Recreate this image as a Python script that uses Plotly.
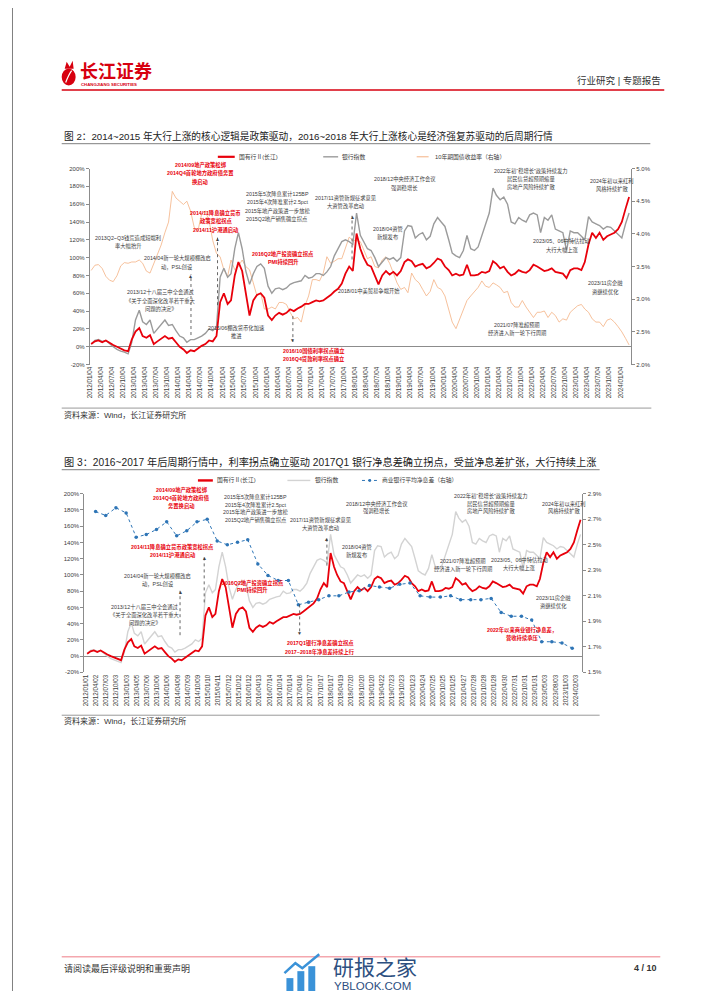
import plotly.graph_objects as go

W, H = 702, 991
FONT = "Liberation Sans, Noto Sans CJK SC, sans-serif"

# ---------------- data ----------------
months = [f"{y}-{m:02d}-15" for y in range(2012, 2025) for m in range(1, 13)][:147]

soe_bank = [  # 国有行Ⅱ(长江), cumulative %
    3, 6, 7, 5, 7, 4, 2, 0, -2, -4, -5, 8,
    17, 21, 12, 10, 13, 3, 6, 9, 12, 9, 10, 5,
    0, -3, -7, -4, -5, -2, 1, 3, 7, 6, 12, 50,
    60, 48, 52, 80, 95, 85, 62, 35, 52, 58, 60, 55,
    35, 30, 35, 38, 36, 38, 42, 40, 43, 45, 48, 48,
    50, 52, 51, 52, 55, 58, 62, 65, 71, 82, 90, 85,
    127, 110, 100, 92, 90, 80, 70, 80, 85, 81, 84, 80,
    85, 95, 98, 96, 90, 92, 93, 88, 90, 94, 99, 97,
    90, 86, 80, 82, 80, 81, 92, 80, 80, 81, 84, 83,
    85, 96, 93, 88, 90, 84, 80, 82, 86, 84, 83, 86,
    92, 90, 88, 85, 86, 88, 84, 83, 82, 77, 86, 88,
    88, 86, 95, 115, 128, 122, 128, 120, 124, 126, 128, 132,
    140, 155, 168,
]

bank_index = [  # 银行指数, cumulative %
    3, 7, 8, 6, 7, 3, 0, -3, -5, -6, -8, 5,
    30, 41, 28, 25, 30, 15, 20, 26, 30, 24, 25, 18,
    12, 10, 5, 8, 8, 10, 12, 15, 20, 18, 22, 78,
    88, 78, 82, 110, 128, 110, 85, 70, 82, 90, 93, 88,
    68, 60, 65, 66, 64, 66, 70, 72, 73, 74, 80, 77,
    78, 82, 82, 80, 84, 90, 102, 110, 118, 120, 118, 115,
    150, 125, 118, 110, 108, 100, 90, 95, 100, 98, 100, 96,
    100, 130, 136, 135, 122, 126, 128, 120, 124, 138, 145, 140,
    135, 120, 105, 102, 100, 108, 125, 110, 108, 112, 125, 135,
    150, 178, 170, 165, 168, 160, 140, 138, 145, 142, 140, 148,
    150, 148, 128, 145, 142, 148, 132, 130, 128, 108, 130, 128,
    128, 124, 120, 146, 140, 138, 136, 132, 135, 134, 130, 125,
    122, 138, 150,
]

cgb10y = [  # 10年期国债收益率, %
    3.44, 3.52, 3.53, 3.47, 3.35, 3.29, 3.27, 3.36, 3.51, 3.56, 3.55, 3.57,
    3.57, 3.60, 3.55, 3.43, 3.40, 3.55, 3.67, 3.83, 4.02, 4.18, 4.65, 4.55,
    4.50, 4.45, 4.50, 4.35, 4.10, 4.05, 4.30, 4.35, 4.20, 3.90, 3.70, 3.65,
    3.45, 3.35, 3.60, 3.45, 3.50, 3.60, 3.50, 3.45, 3.25, 3.05, 3.10, 2.85,
    2.85, 2.88, 2.85, 2.95, 2.95, 2.92, 2.80, 2.70, 2.72, 2.65, 2.90, 3.05,
    3.30, 3.30, 3.28, 3.40, 3.65, 3.55, 3.58, 3.62, 3.62, 3.80, 3.95, 3.90,
    3.90, 3.88, 3.75, 3.62, 3.65, 3.50, 3.48, 3.60, 3.65, 3.55, 3.40, 3.25,
    3.15, 3.18, 3.10, 3.40, 3.30, 3.25, 3.15, 3.05, 3.12, 3.30, 3.18, 3.15,
    3.05, 2.85, 2.65, 2.55, 2.70, 2.85, 2.98, 3.05, 3.12, 3.18, 3.28, 3.20,
    3.18, 3.25, 3.22, 3.18, 3.10, 3.12, 2.95, 2.88, 2.88, 2.98, 2.88, 2.80,
    2.72, 2.80, 2.80, 2.82, 2.72, 2.80, 2.75, 2.65, 2.70, 2.68, 2.80, 2.85,
    2.90, 2.92, 2.85, 2.80, 2.70, 2.65, 2.65, 2.58, 2.68, 2.70, 2.65, 2.58,
    2.50, 2.40, 2.30,
]

nim_dates = [f"{y}-{md}" for y in range(2012, 2024) for md in ("03-31", "06-30", "09-30", "12-31")]
nim = [  # 商业银行平均净息差, %
    2.76, 2.73, 2.79, 2.75,
    2.56, 2.58, 2.62, 2.68,
    2.57, 2.61, 2.68, 2.70,
    2.53, 2.50, 2.52, 2.54,
    2.35, 2.26, 2.22, 2.22,
    2.03, 2.05, 2.07, 2.10,
    2.10, 2.13, 2.14, 2.18,
    2.17, 2.16, 2.19, 2.20,
    2.10, 2.09, 2.09, 2.10,
    2.07, 2.07, 2.07, 2.08,
    1.97, 1.94, 1.94, 1.91,
    1.74, 1.74, 1.73, 1.69,
]

ticks1 = [f"{y}-{m:02d}-04" for y in range(2012, 2025) for m in (1, 4, 7, 10)][:49]
ticktext1 = [t.replace("-", "/") for t in ticks1]
ticktext2 = ["2012/01/01", "2012/04/02", "2012/07/03", "2012/10/03", "2013/01/03", "2013/04/05",
             "2013/07/06", "2013/10/06", "2014/01/06", "2014/04/08", "2014/07/09", "2014/10/09",
             "2015/01/10", "2015/04/11", "2015/07/12", "2015/10/12", "2016/01/12", "2016/04/13",
             "2016/07/14", "2016/10/14", "2017/01/14", "2017/04/16", "2017/07/17", "2017/10/17",
             "2018/01/17", "2018/04/19", "2018/07/20", "2018/10/20", "2019/01/20", "2019/04/22",
             "2019/07/23", "2019/10/23", "2020/01/23", "2020/04/24", "2020/07/25", "2020/10/25",
             "2021/01/25", "2021/04/27", "2021/07/28", "2021/10/28", "2022/01/28", "2022/04/30",
             "2022/07/31", "2022/10/31", "2023/01/31", "2023/05/03", "2023/08/03", "2023/11/03",
             "2024/02/03"]
ticks2 = [t.replace("/", "-") for t in ticktext2]

left_ticks = list(range(-20, 201, 20))
left_text = [f"{v}%" for v in left_ticks]
r1_ticks = [2.0, 2.5, 3.0, 3.5, 4.0, 4.5, 5.0]
r2_ticks = [1.5, 1.7, 1.9, 2.1, 2.3, 2.5, 2.7, 2.9]

RED = "#e8000b"
GREY1 = "#9b9b9b"
GREY2 = "#d3d3d3"
ORANGE = "#f4b183"
BLUE = "#2e75b6"
AXC = "#8c8c8c"
BLACK = "#3a3a3a"


def px(x):
    return x / W


def py(y):
    return 1 - y / H


fig = go.Figure()

# chart 1
fig.add_trace(go.Scatter(x=months, y=cgb10y, xaxis="x", yaxis="y", mode="lines",
                         line=dict(color=ORANGE, width=0.8), name="10年期国债收益率（右轴）"))
fig.add_trace(go.Scatter(x=months, y=bank_index, xaxis="x", yaxis="y2", mode="lines",
                         line=dict(color=GREY1, width=1.4), name="银行指数"))
fig.add_trace(go.Scatter(x=months, y=soe_bank, xaxis="x", yaxis="y2", mode="lines",
                         line=dict(color=RED, width=1.8), name="国有行Ⅱ(长江)"))
# chart 2
fig.add_trace(go.Scatter(x=months, y=bank_index, xaxis="x2", yaxis="y3", mode="lines",
                         line=dict(color=GREY2, width=1.4), name="银行指数"))
fig.add_trace(go.Scatter(x=months, y=soe_bank, xaxis="x2", yaxis="y3", mode="lines",
                         line=dict(color=RED, width=1.8), name="国有行Ⅱ(长江)"))
fig.add_trace(go.Scatter(x=nim_dates, y=nim, xaxis="x2", yaxis="y4", mode="lines+markers",
                         line=dict(color=BLUE, width=1, dash="dot"),
                         marker=dict(color=BLUE, size=3.5), name="商业银行平均净息差（右轴）"))

tickfont_y = dict(size=6, color="#404040", family=FONT)
tickfont_x = dict(size=6.3, color="#404040", family=FONT)

common_y = dict(showgrid=False, showline=True, linecolor=AXC, linewidth=1, ticks="outside",
                ticklen=3, tickcolor=AXC, tickfont=tickfont_y, fixedrange=True)

fig.update_layout(
    width=W, height=H, autosize=False,
    margin=dict(l=0, r=0, t=0, b=0),
    paper_bgcolor="white", plot_bgcolor="rgba(0,0,0,0)",
    showlegend=False,
    font=dict(family=FONT),
    xaxis=dict(domain=[px(78.3), px(622.7)], anchor="y", type="date",
               range=["2012-01-04", "2024-04-01"], tickmode="array", tickvals=ticks1,
               ticktext=ticktext1, tickangle=-90, tickfont=tickfont_x, showgrid=False,
               zeroline=False, showline=False, ticks="", fixedrange=True),
    yaxis=dict(domain=[py(355.7), py(158.5)], anchor="x", side="right", range=[2.0, 5.0],
               tickmode="array", tickvals=r1_ticks, ticktext=[f"{v:.1f}%" for v in r1_ticks],
               zeroline=False, **common_y),
    yaxis2=dict(overlaying="y", anchor="x", side="left", range=[-20, 200], tickmode="array",
                tickvals=left_ticks, ticktext=left_text, zeroline=True, zerolinecolor=AXC,
                zerolinewidth=1, **common_y),
    xaxis2=dict(domain=[px(72.7), px(573.7)], anchor="y3", type="date",
                range=["2011-12-20", "2024-04-01"], tickmode="array", tickvals=ticks2,
                ticktext=ticktext2, tickangle=-90, tickfont=tickfont_x, showgrid=False,
                zeroline=False, showline=False, ticks="", fixedrange=True),
    yaxis3=dict(domain=[py(665.4), py(485.7)], anchor="x2", side="left", range=[-20, 200],
                tickmode="array", tickvals=left_ticks, ticktext=left_text, zeroline=True,
                zerolinecolor=AXC, zerolinewidth=1, **common_y),
    yaxis4=dict(overlaying="y3", anchor="x2", side="right", range=[1.5, 2.9], tickmode="array",
                tickvals=r2_ticks, ticktext=[f"{v:.1f}%" for v in r2_ticks], zeroline=False,
                **common_y),
)

annotations = []
shapes = []


def text(x, y, s, size=7, color=BLACK, anchor="left", bold=False):
    annotations.append(dict(x=px(x), y=py(y), xref="paper", yref="paper",
                            text=f"<b>{s}</b>" if bold else s, showarrow=False,
                            xanchor=anchor, yanchor="middle",
                            font=dict(size=size, color=color, family=FONT)))


def note(cx, y0, lines, color=BLACK, dy=8.3, size=5.3):
    bold = color == RED
    for i, s in enumerate(lines):
        text(cx, y0 + i * dy, s, size=size, color=color, anchor="center", bold=bold)


def hline(x0, x1, y, color, width=1, dash="solid"):
    shapes.append(dict(type="line", xref="paper", yref="paper", x0=px(x0), x1=px(x1),
                       y0=py(y), y1=py(y), line=dict(color=color, width=width, dash=dash)))


def arrow(x, ytail, yhead):
    shapes.append(dict(type="line", xref="paper", yref="paper", x0=px(x), x1=px(x),
                       y0=py(ytail), y1=py(yhead), line=dict(color="#404040", width=0.8, dash="dot")))
    text(x, yhead + (1.5 if yhead < ytail else -1.5), "▲" if yhead < ytail else "▼",
         size=5, color="#404040", anchor="center")


# page frame
shapes.append(dict(type="rect", xref="paper", yref="paper", x0=px(0.5), x1=px(700.5),
                   y0=py(989.5), y1=py(-5), line=dict(color="#808080", width=1)))

# header
shapes.append(dict(type="circle", xref="paper", yref="paper", x0=px(50), x1=px(64),
                   y0=py(75), y1=py(58), fillcolor="#d7000f", line=dict(width=0)))
shapes.append(dict(type="path", xref="paper", yref="paper",
                   path=f"M {px(53)} {py(58)} L {px(55)} {py(51)} L {px(58)} {py(56)} L {px(61)} {py(50)} L {px(62)} {py(58)} Z",
                   fillcolor="#d7000f", line=dict(width=0)))
shapes.append(dict(type="path", xref="paper", yref="paper",
                   path=f"M {px(54)} {py(72)} Q {px(57)} {py(64)} {px(60)} {py(60)}",
                   line=dict(color="white", width=1.2)))
text(66, 61, "长江证券", size=18, color="#d7000f", bold=True)
text(67, 73.5, "CHANGJIANG SECURITIES", size=4.3, color="#d7000f", bold=True)
text(655, 70, "行业研究 | 专题报告", size=9.5, color="#333333", anchor="right")
hline(50, 656, 79.5, "#d7000f", width=1.6)

# chart 1 title / source
text(50, 126, "图 2：2014~2015 年大行上涨的核心逻辑是政策驱动，2016~2018 年大行上涨核心是经济强复苏驱动的后周期行情",
     size=9.7, color="#222222")
hline(50, 642, 133.5, "#7f7f7f", width=1)
hline(50, 643, 399.5, "#9a9a9a", width=1)
text(50, 406.5, "资料来源：Wind，长江证券研究所", size=8, color="#333333")

# chart 1 legend
hline(207, 224, 146.7, RED, width=2.2)
text(226, 146.7, "国有行Ⅱ(长江)", size=5.8)
hline(313, 328, 146.7, GREY1, width=1.4)
text(330, 146.7, "银行指数", size=5.8)
hline(407, 419, 146.7, ORANGE, width=1)
text(423, 146.7, "10年期国债收益率（右轴）", size=5.8)

# chart 1 notes
note(190, 155, ["2014/09地产政策松绑", "2014Q4首轮地方政府债务置", "换启动"], RED)
note(205, 203.3, ["2014/11降息确立货币", "政策宽松拐点", "2014/11沪港通启动"], RED)
note(117, 228, ["2013Q2~Q3钱荒造成短端利", "率大幅抬升"])
note(166, 249, ["2014/04新一轮大规模棚改启", "动，PSL创设"])
note(150, 283, ["2013/12十八届三中全会通过", "《关于全面深化改革若干重大", "问题的决定》"])
note(226, 319, ["2015/06棚改货币化加速", "推进"])
note(267, 184.3, ["2015年5次降息累计125BP", "2015年4次降准累计2.5pct", "2015年地产政策进一步放松", "2015Q2地产销售确立拐点"])
note(273, 244, ["2016Q2地产投资确立拐点", "PMI持续回升"], RED)
note(304, 342, ["2016/10国债利率拐点确立", "2016Q4贷款利率拐点确立"], RED)
note(335, 188.3, ["2017/11资管新规征求意见", "大资管改革启动"])
note(359, 281.7, ["2018/01中美贸易争端开始"])
note(378, 219, ["2018/04资管", "新规发布"])
note(395, 169.3, ["2018/12中央经济工作会议", "强调稳增长"])
note(522, 160.7, ["2022年初“稳增长”政策持续发力", "居民信贷超预期缩量", "房地产风险持续扩散"])
note(553, 231.7, ["2023/05、06中特估拉动", "大行大幅上涨"])
note(603, 170.7, ["2024年初以来红利", "风格持续扩散"])
note(597, 274, ["2023/11房企融", "资继续优化"])
note(508, 315.7, ["2021/07降准超预期", "经济进入新一轮下行周期"])
arrow(206.7, 296, 228)
arrow(180, 326, 265)
arrow(282.5, 307, 333)
arrow(342, 250, 206)

# chart 2 title / source
text(50, 453.5, "图 3：2016~2017 年后周期行情中，利率拐点确立驱动 2017Q1 银行净息差确立拐点，受益净息差扩张，大行持续上涨",
     size=10.2, color="#222222")
hline(50, 591, 461.5, "#7f7f7f", width=1)
hline(50, 591, 708.5, "#9a9a9a", width=1)
text(50, 714.5, "资料来源：Wind，长江证券研究所", size=8, color="#333333")

# chart 2 legend
hline(187, 202, 472.3, RED, width=2.4)
text(204, 472.3, "国有行Ⅱ(长江)", size=5.8)
hline(277, 300, 472.3, GREY2, width=1.4)
text(303, 472.3, "银行指数", size=5.8)
hline(352, 367, 472.3, BLUE, width=1, dash="dot")
shapes.append(dict(type="circle", xref="paper", yref="paper", x0=px(358.3), x1=px(361.3),
                   y0=py(473.8), y1=py(470.8), fillcolor=BLUE, line=dict(width=0)))
text(370, 472.3, "商业银行平均净息差（右轴）", size=5.8)

# chart 2 notes
note(170.7, 482.3, ["2014/09地产政策松绑", "2014Q4首轮地方政府债", "务置换启动"], RED, dy=7.7)
note(245, 489.3, ["2015年5次降息累计125BP", "2015年4次降准累计2.5pct", "2015年地产政策进一步放松", "2015Q2地产销售确立拐点"], dy=7.5)
note(366.7, 495.7, ["2018/12中央经济工作会议", "强调稳增长"], dy=7.7)
note(310, 512, ["2017/11资管新规征求意见", "大资管改革启动"], dy=8)
note(161.7, 539.3, ["2014/11降息确立货币政策宽松拐点", "2014/11沪港通启动"], RED, dy=8)
note(146.7, 568, ["2014/04新一轮大规模棚改启", "动，PSL创设"], dy=8)
note(133.3, 600, ["2013/12十八届三中全会通过", "《关于全面深化改革若干重大", "问题的决定》"], dy=7.8)
note(242.3, 575, ["2016Q2地产投资确立拐点", "PMI持续回升"], RED, dy=7.7)
note(346.7, 539.3, ["2018/04资管", "新规发布"], dy=8)
note(310, 636, ["2017Q1银行净息差确立拐点", "2017~2018年净息差持续上行"], RED, dy=8.5)
note(453.3, 553.3, ["2021/07降准超预期", "经济进入新一轮下行周期"], dy=8)
note(481.7, 487.7, ["2022年初“稳增长”政策持续发力", "居民信贷超预期缩量", "房地产风险持续扩散"], dy=7.8)
note(555, 496, ["2024年初以来红利", "风格持续扩散"], dy=7.5)
note(510, 552.7, ["2023/05、06中特估拉动", "大行大幅上涨"], dy=7.5)
note(545, 591, ["2023/11房企融", "资继续优化"], dy=7.7)
note(512.7, 622.7, ["2022年以来商业银行净息差，", "营收持续承压"], RED, dy=8)
arrow(193.3, 595, 549)
arrow(169, 628, 583.3)
arrow(316.7, 558, 529.3)
arrow(289.3, 597, 627)

# footer
hline(50, 652, 951.5, "#f4a7ae", width=1.5)
text(50, 963, "请阅读最后评级说明和重要声明", size=9, color="#333333")
text(651, 963, "4 / 10", size=9, color="#333333", anchor="right", bold=True)

# watermark
WB = "#3a92d8"
for (x0, x1, ytop) in [(276, 283, 973), (287, 294, 966), (298, 305, 961)]:
    shapes.append(dict(type="rect", xref="paper", yref="paper", x0=px(x0), x1=px(x1),
                       y0=py(989), y1=py(ytop), fillcolor=WB, line=dict(width=0)))
shapes.append(dict(type="path", xref="paper", yref="paper",
                   path=f"M {px(274)} {py(968)} L {px(285)} {py(958)} L {px(292)} {py(963)} L {px(309)} {py(949)}",
                   line=dict(color=WB, width=2.5)))
text(321, 962, "研报之家", size=21, color="#2d4f7f")
text(322, 980.5, "YBLOOK.COM", size=11.5, color="#2d4f7f")

fig.update_layout(annotations=annotations, shapes=shapes)
fig.write_html("out.html")
